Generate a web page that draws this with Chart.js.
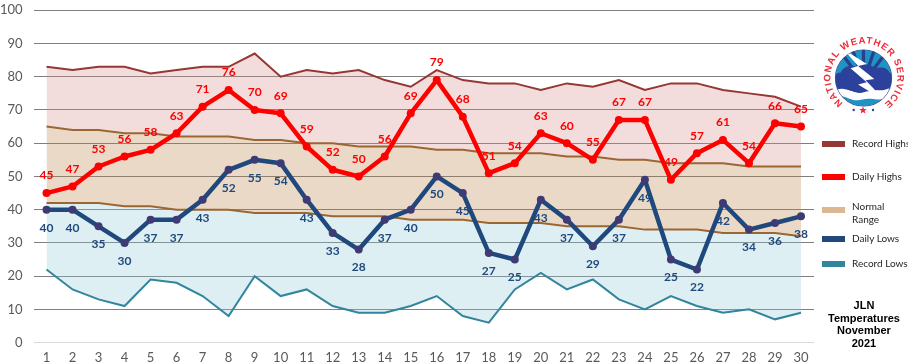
<!DOCTYPE html>
<html><head><meta charset="utf-8">
<script src="https://cdn.jsdelivr.net/npm/chart.js@4"></script>
<style>
html,body{margin:0;padding:0;background:#fff;width:916px;height:364px;overflow:hidden}
#wrap{position:relative;width:916px;height:364px}
canvas{position:absolute;left:0;top:0}
.sw{position:absolute;left:822px;width:23px;height:6px}
.lt{position:absolute;left:852px;width:56px;overflow:hidden;white-space:nowrap;font:10px/14px Lato,sans-serif;color:#262626;transform:translateY(-50%)}
.ti{position:absolute;left:816px;width:96px;top:299px;text-align:center;font:bold 11px/12.5px "Liberation Sans",sans-serif;color:#000}
#logo{position:absolute;left:820px;top:33px;width:88px;height:88px}
</style></head><body>
<div id="wrap">
<canvas id="c" width="916" height="364"></canvas>
<svg id="logo" viewBox="0 0 88 88">
<defs><path id="ring" d="M24.8 71.4 A33.5 33.5 0 1 1 63.2 71.4"/>
<clipPath id="disk"><circle cx="43" cy="43" r="26"/></clipPath></defs>
<g transform="translate(43.5 45) scale(1.08) translate(-43 -43)">
<circle cx="43" cy="43" r="26" fill="#fff" stroke="#3b4a93" stroke-width="1"/>
<g clip-path="url(#disk)">
<rect x="15" y="15" width="56" height="30" fill="#1f93c4"/>
<path d="M43 16V32M33 17L38 32M53 17L48 32M24 22L33 34M62 22L53 34" stroke="#27408f" stroke-width="3"/>
<path d="M17 50C13 44 17 38 22 38C24 32 32 30 37 33C42 29 50 30 54 34C60 32 66 34 67 38C72 40 73 47 69 50C67 54 60 55 55 54C48 58 38 58 32 55C26 57 19 55 17 50Z" fill="#2c419c"/>
<path d="M18 54C28 50 34 60 44 56C52 53 60 58 70 52L70 60C60 66 50 60 42 63C32 66 26 58 18 60Z" fill="#fff"/>
<path d="M18 60C26 58 32 66 42 63C50 60 60 66 70 60V72H18Z" fill="#1f93c4"/>
<path d="M24 16L46 30L38 32L53 44L45 45L64 65L38 49L46 47L31 34L38 32Z" fill="#fff"/>
</g></g>
<text font-family="Liberation Sans,sans-serif" font-weight="bold" font-size="9.5" fill="#ee2b3c" textLength="166"><textPath href="#ring" startOffset="2px">NATIONAL WEATHER SERVICE</textPath></text>
<circle cx="33.7" cy="77" r="1.2" fill="#2c419c"/><circle cx="53" cy="77" r="1.2" fill="#2c419c"/>
<path d="M43 73.5l1 2.6h2.8l-2.2 1.7.8 2.7-2.4-1.6-2.4 1.6.8-2.7-2.2-1.7h2.8z" fill="#ee2b3c"/>
</svg>
<div id="legend"></div>
<div class="ti">JLN<br>Temperatures<br>November<br>2021</div>
</div>
<script>
const days = [1,2,3,4,5,6,7,8,9,10,11,12,13,14,15,16,17,18,19,20,21,22,23,24,25,26,27,28,29,30];
const recordHighs = [83,82,83,83,81,82,83,83,87,80,82,81,82,79,77,82,79,78,78,76,78,77,79,76,78,78,76,75,74,71];
const normalHighs = [65,64,64,63,63,62,62,62,61,61,60,60,59,59,59,58,58,57,57,57,56,56,55,55,54,54,54,53,53,53];
const normalLows  = [42,42,42,41,41,40,40,40,39,39,39,38,38,38,37,37,37,36,36,36,35,35,35,34,34,34,33,33,33,32];
const recordLows  = [22,16,13,11,19,18,14,8,20,14,16,11,9,9,11,14,8,6,16,21,16,19,13,10,14,11,9,10,7,9];
const dailyHighs  = [45,47,53,56,58,63,71,76,70,69,59,52,50,56,69,79,68,51,54,63,60,55,67,67,49,57,61,54,66,65];
const dailyLows   = [40,40,35,30,37,37,43,52,55,54,43,33,28,37,40,50,45,27,25,43,37,29,37,49,25,22,42,34,36,38];
const yTicks = [0,10,20,30,40,50,60,70,80,90,100];
const legendNames = ["Record Highs","Daily Highs","Normal|Range","Daily Lows","Record Lows"];
const legendColors = ["#953735","#ff0000","#dcb892","#1f497d","#31859c"];

const swatchTop = [141,174,207,236,261];
const textMid = [[142.7],[175.7],[206,218.7],[237.7],[262.7]];
const lg = document.getElementById('legend');
legendNames.forEach((n,i)=>{
  const s=document.createElement('div');s.className='sw';s.style.top=swatchTop[i]+'px';s.style.background=legendColors[i];lg.appendChild(s);
  n.split('|').forEach((t,j)=>{
    const d=document.createElement('div');d.className='lt';d.textContent=t;d.style.top=textMid[i][j]+'px';lg.appendChild(d);
  });
});

const valueLabels = {
  id:'valueLabels',
  afterDatasetsDraw(chart){
    const ctx=chart.ctx;
    ctx.save();
    ctx.textAlign='center';ctx.textBaseline='middle';
    ctx.font='bold 12px Lato, sans-serif';
    [[4,'#ff0000',-17.5],[5,'#1f497d',18]].forEach(([idx,col,dy])=>{
      ctx.fillStyle=col;
      chart.getDatasetMeta(idx).data.forEach((p,i)=>{
        ctx.fillText(String(chart.data.datasets[idx].data[i]),p.x,p.y+dy);
      });
    });
    ctx.restore();
  }
};

const thin=(label,data,color,fill,bg,order)=>({label,data,borderColor:color,borderWidth:2,pointRadius:0,tension:0,fill,backgroundColor:bg,order});
const thick=(label,data,color,pt,order)=>({label,data,borderColor:color,borderWidth:4.5,pointRadius:4,pointHoverRadius:4,pointBackgroundColor:pt,pointBorderColor:pt,pointBorderWidth:0,tension:0,fill:false,order,borderCapStyle:'round',borderJoinStyle:'round'});

new Chart(document.getElementById('c'),{
  type:'line',
  data:{labels:days,datasets:[
    thin('Record Highs',recordHighs,'#953735','+1','rgba(212,142,138,.3)',4),
    thin('Normal High',normalHighs,'#9c6632','+1','rgba(188,128,72,.3)',3),
    thin('Normal Low',normalLows,'#9c6632','+1','rgba(145,202,218,.3)',3),
    thin('Record Lows',recordLows,'#31859c',false,'transparent',4),
    thick('Daily Highs',dailyHighs,'#ff0000','#ff0000',1),
    thick('Daily Lows',dailyLows,'#1f497d','#3f3a74',2)
  ]},
  options:{
    responsive:false,animation:false,
    layout:{padding:{top:10.3,right:102,left:0,bottom:0}},
    plugins:{legend:{display:false},tooltip:{enabled:false},filler:{drawTime:'beforeDatasetsDraw'}},
    scales:{
      x:{offset:true,
        grid:{display:false,drawTicks:false},border:{display:false},
        ticks:{color:'#595959',font:{family:'Lato',size:13},padding:7,maxRotation:0,autoSkip:false},
        afterFit(s){s.height=21.4;s.paddingLeft=0;s.paddingRight=0;}
      },
      y:{min:0,max:100,
        afterBuildTicks(s){s.ticks=yTicks.map(v=>({value:v}));},
        grid:{drawTicks:false,color:c=>c.tick&&c.tick.value===0?'#d9d9d9':'#7f7f7f',lineWidth:1},
        border:{display:false},
        ticks:{color:'#595959',font:{family:'Lato',size:13},padding:11},
        afterFit(s){s.width=33.5;s.paddingTop=0;s.paddingBottom=0;}
      }
    }
  },
  plugins:[valueLabels]
});
</script>
</body></html>
